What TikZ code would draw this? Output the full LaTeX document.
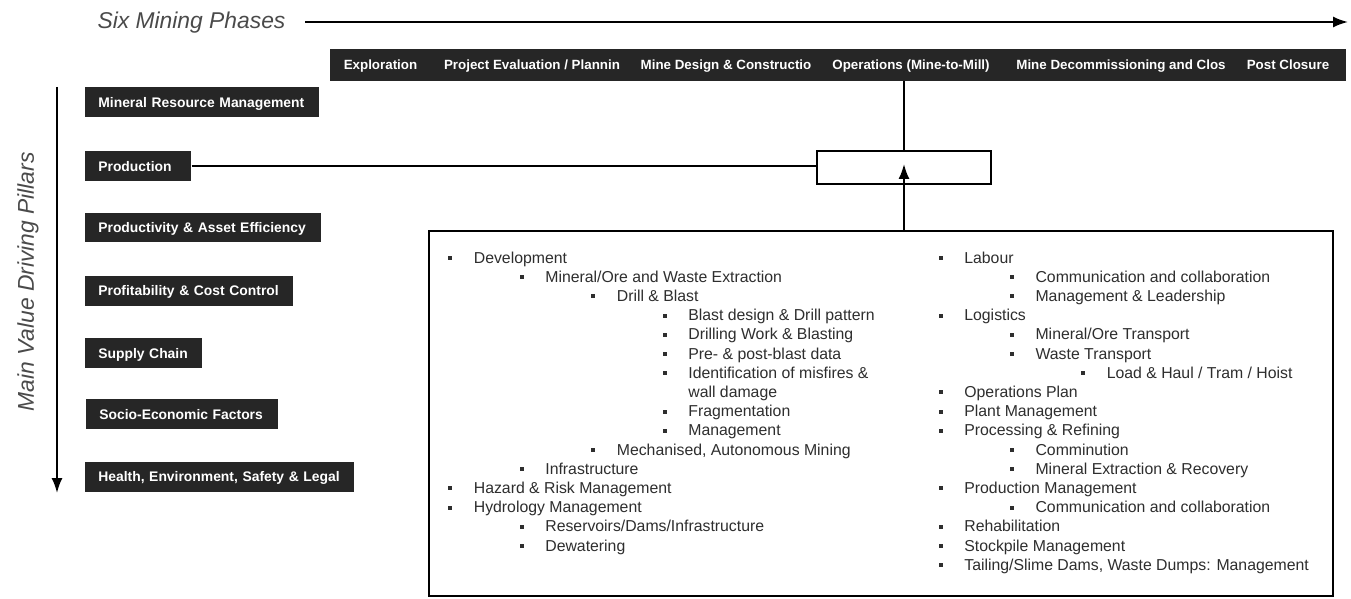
\documentclass[tikz,border=0pt]{standalone}
\usepackage{fontspec}
\setmainfont{Liberation Sans}
\usepackage{tikz}
\usetikzlibrary{positioning,calc,arrows,arrows.meta}
\definecolor{barblack}{HTML}{262626}
\definecolor{txtgray}{HTML}{2E2E2E}
\definecolor{capgray}{HTML}{4A4A4A}
\tikzset{dbar/.style={fill=barblack, draw=barblack, inner sep=0pt}}
\tikzset{phase/.style={text=white, font=\fontsize{7.6}{9}\selectfont\bfseries, inner sep=0pt, text height=1.5ex, text depth=0.35ex}}
\tikzset{pillar/.style={fill=barblack, text=white, font=\fontsize{7.9}{9}\selectfont\bfseries, inner xsep=0.26cm, inner ysep=0pt, minimum height=0.6cm, text height=1.5ex, text depth=0.35ex, anchor=west, align=left}}
\tikzset{caption/.style={text=capgray, font=\fontsize{13}{15}\selectfont\itshape, inner sep=0pt}}
\tikzset{entry/.style={text=txtgray, font=\fontsize{9}{11}\selectfont, inner sep=0pt, text height=1.5ex, text depth=0.4ex, anchor=west}}
\tikzset{sqbullet/.style={fill=txtgray, inner sep=0pt, minimum size=0.08cm}}
\tikzset{arr/.style={draw, -{Latex[length=0.3cm,width=0.22cm]}, line width=1.1pt}}
\tikzset{frame/.style={draw=black, line width=1.1pt, fill=white, inner sep=0pt}}

\begin{document}
\begin{tikzpicture}[x=0.02cm, y=-0.02cm]
	\useasboundingbox (0,0) rectangle (1351,598);

	% phases along the top
	\node[caption] (phcap) at (191.5,23) {Six Mining Phases};
	\coordinate (ph0) at (305,22);
	\coordinate (ph1) at (1348,22);
	\draw[arr] (ph0) -- (ph1);

	\node[dbar, minimum width=20.3cm, minimum height=0.62cm, anchor=north west] (bar) at (330,49) {};
	\node[phase] (expl) at (380.5,64.5) {Exploration};
	\node[phase] (plan) at (532,64.5) {Project Evaluation / Plannin};
	\node[phase] (cons) at (726,64.5) {Mine Design \& Constructio};
	\node[phase] (ops) at (911,64.5) {Operations (Mine-to-Mill)};
	\node[phase] (clos) at (1121,64.5) {Mine Decommissioning and Clos};
	\node[phase] (post) at (1288,64.5) {Post Closure};

	% pillars down the left
	\node[caption, rotate=90] (pilcap) at (28,282) {Main Value Driving Pillars};
	\coordinate (pl0) at (57,87);
	\coordinate (pl1) at (57,493);
	\draw[arr] (pl0) -- (pl1);

	\node[pillar, text width=4.16cm] (mrm) at (85,102) {Mineral Resource Management};
	\node[pillar, text width=1.60cm] (prod) at (85,166) {Production};
	\node[pillar, text width=4.20cm] (pae) at (85,227.5) {Productivity \& Asset Efficiency};
	\node[pillar, text width=3.64cm] (pcc) at (85,290.5) {Profitability \& Cost Control};
	\node[pillar, text width=1.82cm] (sup) at (85,353) {Supply Chain};
	\node[pillar, text width=3.32cm] (soc) at (86,414) {Socio-Economic Factors};
	\node[pillar, text width=4.86cm] (hesl) at (85,476.5) {Health, Environment, Safety \& Legal};

	% crossing point and detail box
	\node[frame, minimum width=3.48cm, minimum height=0.66cm] (hub) at (904,167.5) {};
	\node[frame, minimum width=18.08cm, minimum height=7.3cm, anchor=north west] (detail) at (428,230) {};

	\draw[line width=1.1pt] (hub.north) -- (hub.north |- bar.south);
	\draw[line width=1.1pt] (prod.east) -- (prod.east -| hub.west);
	\draw[arr] (detail.north -| hub.center) -- ([yshift=2pt]hub.center);

	% left column
	\foreach \lev/\row/\txt in {1/0/Development, 2/1/{Mineral/Ore and Waste Extraction},
			3/2/{Drill \& Blast}, 4/3/{Blast design \& Drill pattern}, 4/4/{Drilling Work \& Blasting},
			4/5/{Pre- \& post-blast data}, 4/6/{Identification of misfires \&}, 4/8/Fragmentation,
			4/9/Management, 3/10/{Mechanised, Autonomous Mining}, 2/11/Infrastructure,
			1/12/{Hazard \& Risk Management}, 1/13/{Hydrology Management},
			2/14/{Reservoirs/Dams/Infrastructure}, 2/15/Dewatering}{
		\node[sqbullet] (lb\row) at ({450+(\lev-1)*71.5},{258+\row*19.2}) {};
		\node[entry] (lt\row) at ({473.5+(\lev-1)*71.5},{258+\row*19.2}) {\txt};
	}
	\node[entry] (lt7) at (688,{258+7*19.2}) {wall damage};

	% right column
	\foreach \lev/\row/\txt in {1/0/Labour, 2/1/{Communication and collaboration},
			2/2/{Management \& Leadership}, 1/3/Logistics, 2/4/{Mineral/Ore Transport},
			2/5/{Waste Transport}, 3/6/{Load \& Haul / Tram / Hoist}, 1/7/{Operations Plan},
			1/8/{Plant Management}, 1/9/{Processing \& Refining}, 2/10/Comminution,
			2/11/{Mineral Extraction \& Recovery}, 1/12/{Production Management},
			2/13/{Communication and collaboration}, 1/14/Rehabilitation,
			1/15/{Stockpile Management}, 1/16/{Tailing/Slime Dams, Waste Dumps: Management}}{
		\node[sqbullet] (rb\row) at ({941+(\lev-1)*71.2},{258+\row*19.2}) {};
		\node[entry] (rt\row) at ({964+(\lev-1)*71.2},{258+\row*19.2}) {\txt};
	}
\end{tikzpicture}
\end{document}
